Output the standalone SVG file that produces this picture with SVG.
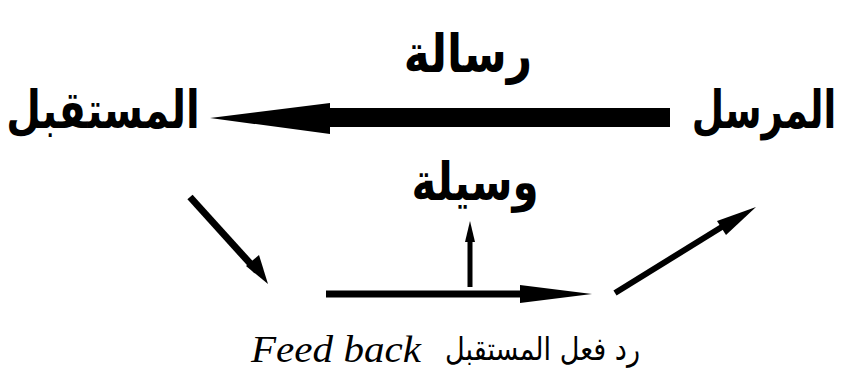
<svg xmlns="http://www.w3.org/2000/svg" width="844" height="373" viewBox="0 0 844 373">
<style>
.ar{font-family:"DejaVu Sans",sans-serif;font-weight:bold;font-size:40px;fill:#000;text-anchor:middle}
.ft{font-family:"DejaVu Sans",sans-serif;fill:#000}
.shaft{stroke:#000;fill:none}
.head{fill:#000;stroke:none}
</style>
<rect width="844" height="373" fill="#fff"/>
<g id="sender" transform="translate(764,128) scale(0.93,1.3)"><text class="ar" x="0" y="0">المرسل</text></g>
<g id="receiver" transform="translate(103,128) scale(1,1.3)"><text class="ar" x="0" y="0">المستقبل</text></g>
<g id="message" transform="translate(468,72) scale(1.1,1.3)"><text class="ar" x="0" y="0">رسالة</text></g>
<g id="medium" transform="translate(475,200) scale(1.05,1.3)"><text class="ar" x="0" y="0">وسيلة</text></g>
<g id="feedback">
<text class="ft" x="640" y="360" font-size="32" text-anchor="end" textLength="195" lengthAdjust="spacingAndGlyphs">رد فعل المستقبل</text>
<text x="251" y="362" font-size="37" font-family="Liberation Serif,serif" font-style="italic" textLength="170" lengthAdjust="spacingAndGlyphs">Feed back</text>
</g>
<g id="connectors">
<path class="head" d="M670,108 L330,108 L330,103 L210,118 L330,134 L330,127 L670,127 Z"/>
<line class="shaft" x1="190" y1="197" x2="257" y2="271" stroke-width="7"/>
<path class="head" d="M268,284 L246,266 L259,255 Z"/>
<line class="shaft" x1="470" y1="287" x2="470" y2="235" stroke-width="5"/>
<path class="head" d="M470,221 L465,242 L475,242 Z"/>
<line class="shaft" x1="326" y1="294" x2="522" y2="294" stroke-width="7"/>
<path class="head" d="M592,294 L520,285 L520,303 Z"/>
<line class="shaft" x1="615" y1="293" x2="725" y2="225" stroke-width="6"/>
<path class="head" d="M756,207 L717,221 L726,235 Z"/>
</g>
</svg>
